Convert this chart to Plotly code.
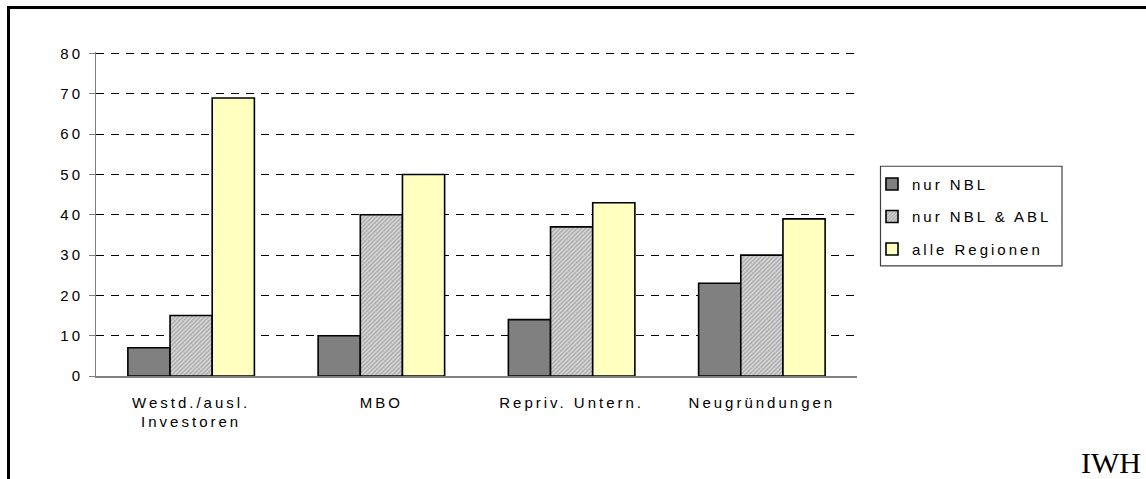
import plotly.graph_objects as go

categories = ["Westd./ausl.<br>Investoren", "MBO", "Repriv. Untern.", "Neugründungen"]
series_names = ["nur NBL", "nur NBL & ABL", "alle Regionen"]
nur_nbl = [7, 10, 14, 23]
nur_nbl_abl = [15, 40, 37, 30]
alle_regionen = [69, 50, 43, 39]
y_ticks = [0, 10, 20, 30, 40, 50, 60, 70, 80]

W, H = 1146, 479
YMAX = 80.4
L, R, B = 96, 857, 376          # plot area in pixels
T = B - (B - 54) * YMAX / 80     # so that 80 sits at y=54

def px_x(x):
    return (x - L) / (R - L)

def px_y(y):
    return (B - y) / (B - T)

font = dict(family="Liberation Sans, Arial, sans-serif", size=15, color="black")
line = dict(color="black", width=1.6)

fig = go.Figure()
fig.add_trace(go.Bar(name=series_names[0], x=categories, y=nur_nbl, legendgroup="a",
                     marker=dict(color="#808080", line=line)))
fig.add_trace(go.Bar(name=series_names[1], x=categories, y=nur_nbl_abl, legendgroup="b",
                     marker=dict(color="#c0c0c0", line=line,
                                 pattern=dict(shape="/", size=3, solidity=0.6,
                                              fgcolor="#7a7a7a", bgcolor="#e0e0e0",
                                              fillmode="overlay"))))
fig.add_trace(go.Bar(name=series_names[2], x=categories, y=alle_regionen, legendgroup="c",
                     marker=dict(color="#FFFFC0", line=line)))

fig.update_layout(
    width=W, height=H,
    margin=dict(l=L, r=W - R, t=T, b=H - B, pad=0),
    paper_bgcolor="white", plot_bgcolor="white",
    barmode="group", bargap=0.335, bargroupgap=0,
    font=font,
    showlegend=True,
    legend=dict(x=px_x(872), y=px_y(168), xanchor="left", yanchor="top",
                borderwidth=0, bgcolor="rgba(0,0,0,0)",
                font=font, itemwidth=30, tracegroupgap=10, traceorder="grouped"),
)
fig.update_yaxes(range=[0, YMAX], tickvals=y_ticks, showgrid=True,
                 gridcolor="black", gridwidth=1, griddash="8px,7px",
                 showline=True, linecolor="#808080", linewidth=1,
                 ticks="outside", ticklen=6, tickcolor="#808080",
                 ticklabelstandoff=3,
                 zeroline=False, tickfont=font, fixedrange=True)
fig.update_xaxes(showline=True, linecolor="#808080", linewidth=1.5,
                 ticks="", tickfont=font, ticklabelstandoff=12, fixedrange=True)

# legend frame
fig.add_shape(type="rect", xref="paper", yref="paper",
              x0=px_x(880.5), x1=px_x(1062), y0=px_y(166.5), y1=px_y(266),
              line=dict(color="#404040", width=1.2), fillcolor="white", layer="below")

# outer frame (left and top borders)
fig.add_shape(type="line", xref="paper", yref="paper",
              x0=px_x(8.5), x1=px_x(8.5), y0=px_y(7), y1=px_y(482),
              line=dict(color="black", width=3))
fig.add_shape(type="line", xref="paper", yref="paper",
              x0=px_x(7), x1=px_x(1150), y0=px_y(8), y1=px_y(8),
              line=dict(color="black", width=3))

fig.add_annotation(text="IWH", xref="paper", yref="paper",
                   x=px_x(1143), y=px_y(462), xanchor="right", yanchor="middle",
                   showarrow=False,
                   font=dict(family="Liberation Serif, Times New Roman, serif",
                             size=30, color="black"))

post = """
document.body.style.margin = '0';
var gd = document.getElementById('{plot_id}');
gd.querySelectorAll('.xtick text, .ytick text, .legendtext').forEach(function (t) {
  t.style.letterSpacing = '3px';
});
gd.querySelectorAll('.legend .scrollbox, .legend').forEach(function (e) {
  e.removeAttribute('clip-path');
  e.style.clipPath = 'none';
});
"""

fig.write_html("out.html", post_script=post,
               config={"displayModeBar": False, "staticPlot": True})
